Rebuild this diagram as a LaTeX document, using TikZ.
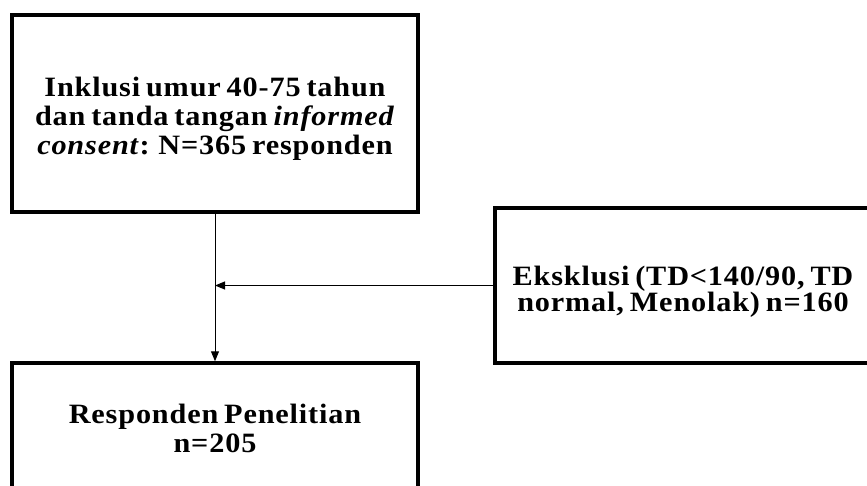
\documentclass[tikz,border=0pt]{standalone}
\usepackage{fontspec}
\setmainfont{Liberation Serif}[FakeStretch=1.08, LetterSpace=3, WordSpace=0.7]
\usetikzlibrary{arrows.meta}
\begin{document}
\begin{tikzpicture}[x=1pt, y=-1pt,
        every node/.style = {shape=rectangle, draw, line width=3.5pt,
        align=center, font=\fontsize{28}{29}\selectfont\bfseries},
        flow/.style = {line width=1pt, -{Triangle[length=10pt, width=8pt]}}]
        \useasboundingbox (0,0) rectangle (867,485);
        \clip (0,0) rectangle (867,485);
        \node[minimum width=406pt, minimum height=197pt] (inklusi) at (215,113.5)
            {\rule{0pt}{30pt}Inklusi umur 40-75 tahun\\ dan tanda tangan \textit{informed}\\
            \textit{consent}: N=365 responden};
        \node[minimum width=376pt, minimum height=155pt,
            font=\fontsize{28}{26}\selectfont\bfseries] (eksklusi) at (683,285.5)
            {\rule{0pt}{32pt}Eksklusi (TD<140/90, TD\\ normal, Menolak) n=160};
        \node[minimum width=406pt, minimum height=130pt] (responden) at (215,428)
            {Responden Penelitian\\ n=205};
        \draw[flow] (inklusi.south) -- (responden.north);
        \draw[flow] (eksklusi.west) -- (eksklusi.west -| inklusi.south);
    \end{tikzpicture}
\end{document}
